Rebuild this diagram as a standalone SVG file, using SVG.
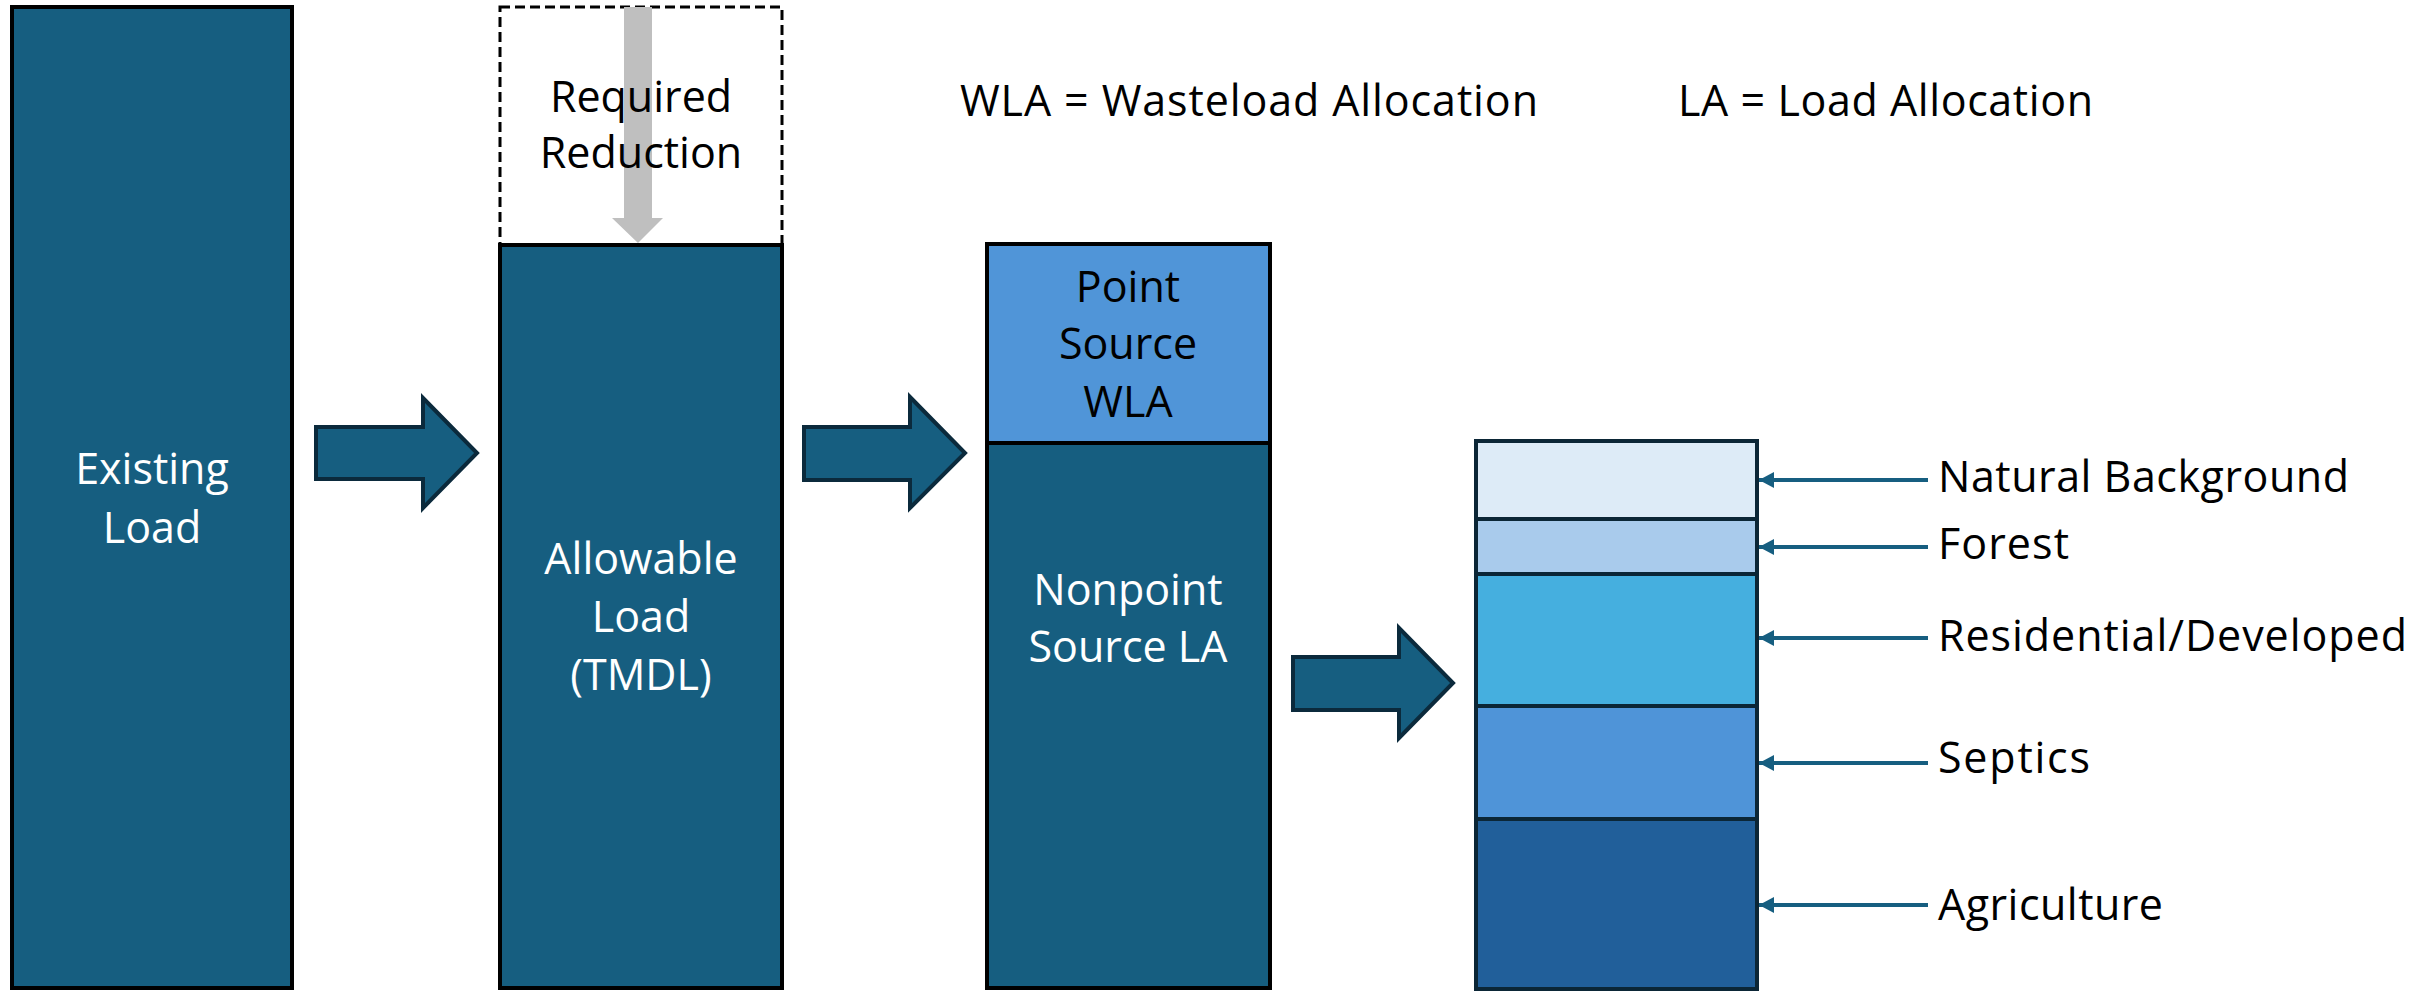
<svg xmlns="http://www.w3.org/2000/svg" width="2435" height="993" viewBox="0 0 2435 993">
<defs>
<style>
text{font-family:"Open Sans","Liberation Sans",sans-serif;font-size:43px;fill:#000}
.w{fill:#fff}
.c{text-anchor:middle}
.teal{fill:#165e80}
.blk{stroke:#000;stroke-width:4}
.nav{stroke:#0b2636;stroke-width:4}
.barrow{fill:#165e80;stroke:#0b2a3c;stroke-width:4;stroke-linejoin:miter}
.ptr{stroke:#165e80;stroke-width:4;fill:none;marker-end:url(#ah)}
</style>
<marker id="ah" markerUnits="userSpaceOnUse" markerWidth="16" markerHeight="18" refX="15" refY="8" orient="auto" viewBox="0 0 16 16">
<polygon points="0,0 15,8 0,16" fill="#165e80"/>
</marker>
</defs>
<rect width="2435" height="993" fill="#fff"/>

<g id="existing-load">
<rect x="12" y="7" width="280" height="981" class="teal blk"/>
<text class="w c" x="152" y="484">Existing</text>
<text class="w c" x="152" y="543">Load</text>
</g>

<g id="required-reduction">
<rect x="500" y="7" width="282" height="238" fill="#fff" stroke="#000" stroke-width="3" stroke-dasharray="10 5"/>
<polygon points="624,7 652,7 652,218 663,218 638,243 612,218 624,218" fill="#bfbfbf"/>
<text class="c" x="641" y="112">Required</text>
<text class="c" x="641" y="168">Reduction</text>
</g>

<g id="allowable-load">
<rect x="500" y="245" width="282" height="743" class="teal blk"/>
<text class="w c" x="641" y="574">Allowable</text>
<text class="w c" x="641" y="632">Load</text>
<text class="w c" x="641" y="690">(TMDL)</text>
</g>

<g id="point-source-wla">
<rect x="987" y="244" width="283" height="199" fill="#5095d8" class="blk"/>
<text class="c" x="1128" y="302">Point</text>
<text class="c" x="1128" y="359">Source</text>
<text class="c" x="1128" y="417">WLA</text>
</g>

<g id="nonpoint-source-la">
<rect x="987" y="443" width="283" height="545" class="teal blk"/>
<text class="w c" x="1128" y="605">Nonpoint</text>
<text class="w c" x="1128" y="662">Source LA</text>
</g>

<g id="la-breakdown">
<rect x="1476" y="441" width="281" height="78" fill="#ddebf7" class="nav"/>
<rect x="1476" y="519" width="281" height="55" fill="#a9cbec" class="nav"/>
<rect x="1476" y="574" width="281" height="132" fill="#45afdf" class="nav"/>
<rect x="1476" y="706" width="281" height="113" fill="#4f94d8" class="nav"/>
<rect x="1476" y="819" width="281" height="170" fill="#215f9a" class="nav"/>
</g>

<g id="labels">
<text x="1938" y="492" textLength="411" lengthAdjust="spacing">Natural Background</text>
<text x="1938" y="559" textLength="131" lengthAdjust="spacing">Forest</text>
<text x="1938" y="651" textLength="469" lengthAdjust="spacing">Residential/Developed</text>
<text x="1938" y="773" textLength="152" lengthAdjust="spacing">Septics</text>
<text x="1938" y="920" textLength="225" lengthAdjust="spacing">Agriculture</text>
</g>

<g id="legend">
<text x="960" y="116" textLength="578" lengthAdjust="spacing">WLA = Wasteload Allocation</text>
<text x="1678" y="116" textLength="415" lengthAdjust="spacing">LA = Load Allocation</text>
</g>

<g id="connectors">
<polygon class="barrow" points="316,427 423,427 423,398 477,453 423,508 423,479 316,479"/>
<polygon class="barrow" points="804,427 910,427 910,397 965,453 910,508 910,480 804,480"/>
<polygon class="barrow" points="1293,657 1399,657 1399,628 1453,683 1399,738 1399,710 1293,710"/>
<line class="ptr" x1="1928" y1="480" x2="1759" y2="480"/>
<line class="ptr" x1="1928" y1="547" x2="1759" y2="547"/>
<line class="ptr" x1="1928" y1="638" x2="1759" y2="638"/>
<line class="ptr" x1="1928" y1="763" x2="1759" y2="763"/>
<line class="ptr" x1="1928" y1="905" x2="1759" y2="905"/>
</g>
</svg>
